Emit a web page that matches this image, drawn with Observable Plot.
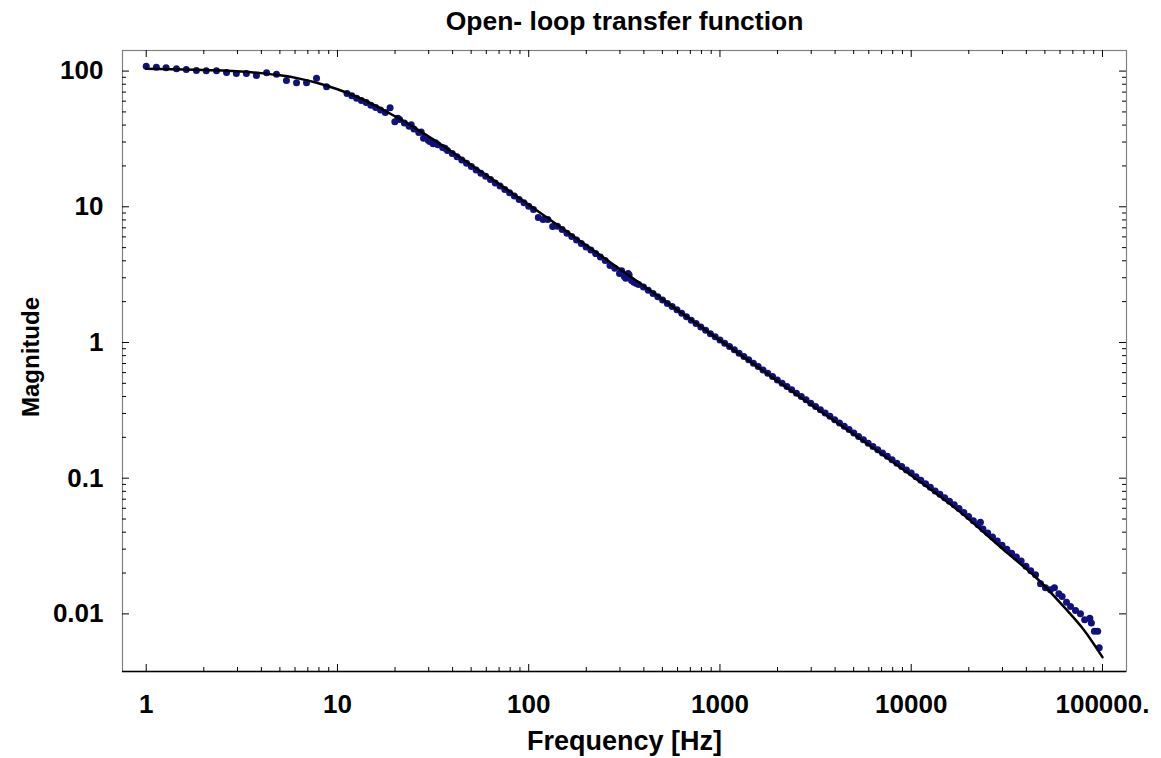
<!DOCTYPE html>
<html><head><meta charset="utf-8">
<script src="https://cdn.jsdelivr.net/npm/d3@7"></script>
<script src="https://cdn.jsdelivr.net/npm/@observablehq/plot@0.6"></script>
<style>body{margin:0;background:#fff} svg{display:block}</style>
</head><body><div id="chart"></div>
<script>
// ---- Measured data (Hz, magnitude) ----
const freqA = [1, 1.13, 1.27, 1.44, 1.62, 1.83, 2.06, 2.33, 2.63, 2.96, 3.34, 3.77, 4.26, 4.80, 5.41, 6.11, 6.89, 7.77, 8.77];
const magA  = [108.7, 106.9, 105.7, 103.9, 102.8, 100.9, 100.4, 100.4, 97.7, 95.9, 95.9, 92.8, 97.1, 94.9, 85.3, 82.0, 82.0, 88.7, 76.6];

const freqB = [11.22, 11.89, 12.59, 13.34, 14.13, 14.96, 15.85, 16.79, 17.78, 18.84, 19.95, 21.13, 22.39, 23.71, 25.12, 26.61, 28.18, 29.85, 31.62, 33.50, 35.48, 37.58, 39.81, 42.17, 44.67, 47.32, 50.12, 53.09, 56.23, 59.57, 63.10, 66.83, 70.79, 74.99, 79.43, 84.14, 89.13, 94.41,
               20.7, 24.3, 27.4, 30.4, 32.6, 36.5];
const magB  = [68.5, 65.8, 63.2, 60.6, 58.6, 56.1, 53.9, 51.6, 49.6, 53.6, 42.4, 43.9, 41.4, 39.2, 37.4, 35.3, 32.0, 30.9, 29.2, 28.6, 27.3, 26.0, 24.7, 23.4, 22.1, 20.9, 19.8, 18.7, 17.7, 16.8, 15.9, 15.0, 14.2, 13.4, 12.7, 12.0, 11.3, 10.7,
               44.9, 40.2, 35.6, 30.3, 29.6, 27.0];

const freqC = [100, 105.9, 112.2, 118.9, 125.9, 133.4, 141.3, 149.6, 158.5, 167.9, 177.8, 188.4, 199.5, 211.3, 223.9, 237.1, 251.2, 266.1, 281.8, 298.5, 316.2, 335.0, 354.8, 375.8, 398.1, 421.7, 446.7, 473.2, 501.2, 530.9, 562.3, 595.7, 631.0, 668.3, 707.9, 749.9, 794.3, 841.4, 891.3, 944.1,
               306, 331, 322, 345, 366];
const magC  = [10.1, 9.55, 8.35, 8.05, 8.05, 7.15, 7.20, 6.80, 6.38, 6.05, 5.70, 5.36, 5.05, 4.80, 4.52, 4.26, 4.02, 3.70, 3.52, 3.22, 3.06, 3.14, 2.78, 2.68, 2.56, 2.43, 2.30, 2.17, 2.06, 1.94, 1.84, 1.74, 1.64, 1.55, 1.46, 1.38, 1.30, 1.23, 1.16, 1.10,
               3.38, 3.22, 2.98, 2.86, 2.72];

const freqD = [1000, 1059, 1122, 1189, 1259, 1334, 1413, 1496, 1585, 1679, 1778, 1884, 1995, 2113, 2239, 2371, 2512, 2661, 2818, 2985, 3162, 3350, 3548, 3758, 3981, 4217, 4467, 4732, 5012, 5309, 5623, 5957, 6310, 6683, 7079, 7499, 7943, 8414, 8913, 9441];
const magD  = [1.045, 0.988, 0.935, 0.883, 0.834, 0.788, 0.745, 0.704, 0.665, 0.628, 0.594, 0.561, 0.530, 0.501, 0.474, 0.448, 0.423, 0.400, 0.378, 0.357, 0.338, 0.319, 0.302, 0.286, 0.270, 0.255, 0.241, 0.228, 0.215, 0.203, 0.192, 0.181, 0.171, 0.162, 0.153, 0.145, 0.137, 0.129, 0.122, 0.115];

const freqE = [10000, 10590, 11220, 11890, 12590, 13340, 14130, 14960, 15850, 16790, 17780, 18840, 19950, 21130, 22390, 23000, 23710, 25120, 26610, 28180, 29850, 31620, 33500, 35480, 37580, 39810, 42170, 44670];
const magE  = [0.109, 0.1025, 0.0965, 0.0910, 0.0857, 0.0806, 0.0760, 0.0716, 0.0675, 0.0636, 0.0598, 0.0558, 0.0521, 0.0486, 0.0454, 0.0474, 0.0423, 0.0395, 0.0368, 0.0344, 0.0320, 0.0299, 0.0280, 0.0262, 0.0245, 0.0224, 0.0208, 0.0194];

const freqF = [47430, 50350, 53460, 56100, 59160, 61520, 64860, 68080, 72280, 76740, 80720, 85900, 87500, 90780, 94410, 96160];
const magF  = [0.01667, 0.01556, 0.01504, 0.01556, 0.01406, 0.01343, 0.01219, 0.01134, 0.01059, 0.01002, 0.00904, 0.00929, 0.00855, 0.00746, 0.00746, 0.00562];

// ---- Fitted model curve ----
const fitFreq = [1, 1.585, 2.512, 3.981, 5.012, 6.310, 7.943, 10, 12.59, 15.85, 19.95, 25.12, 31.62, 39.81, 63.10, 100, 177.8, 316.2, 562.3, 1000, 1778, 3162, 5623, 10000, 17780, 31620, 44670, 63100, 79430, 100000];
const fitMag  = [104, 102.7, 100.9, 96.6, 93.0, 88.0, 81.4, 73.5, 64.7, 55.5, 46.5, 38.5, 31.4, 25.3, 16.3, 10.35, 5.84, 3.29, 1.85, 1.04, 0.585, 0.330, 0.188, 0.105, 0.0572, 0.0283, 0.0187, 0.0112, 0.0077, 0.0048];

// ---- Axes ----
const xDomain = [0.7516, 133560];
const yDomain = [0.003762, 141.8];
const xMajor = [1, 10, 100, 1000, 10000, 100000];
const xLabels = ["1", "10", "100", "1000", "10000", "100000."];
const xMinor = [2,3,4,5,6,7,8,9, 20,30,40,50,60,70,80,90, 200,300,400,500,600,700,800,900, 2000,3000,4000,5000,6000,7000,8000,9000, 20000,30000,40000,50000,60000,70000,80000,90000];
const yMajor = [0.01, 0.1, 1, 10, 100];
const yLabels = ["0.01", "0.1", "1", "10", "100"];
const yMinor = [0.02,0.03,0.04,0.05,0.06,0.07,0.08,0.09, 0.2,0.3,0.4,0.5,0.6,0.7,0.8,0.9, 2,3,4,5,6,7,8,9, 20,30,40,50,60,70,80,90];

const titleText = "Open- loop transfer function";
const xTitle = "Frequency [Hz]";
const yTitle = "Magnitude";

// ---- Build ----
const pairs = (fs, ms) => fs.map((f, i) => ({f, m: ms[i]}));
const points = [
  ...pairs(freqA, magA), ...pairs(freqB, magB), ...pairs(freqC, magC),
  ...pairs(freqD, magD), ...pairs(freqE, magE), ...pairs(freqF, magF)
];
const fit = pairs(fitFreq, fitMag);

const W = 1161, H = 758, mL = 122, mR = 35, mT = 50, mB = 87;
const innerW = W - mL - mR, innerH = H - mT - mB;
const font = "'Liberation Sans', Arial, Helvetica, sans-serif";
const lab = {fontWeight: "bold", fill: "black", lineAnchor: "middle"};

const chart = Plot.plot({
  width: W, height: H,
  marginLeft: mL, marginRight: mR, marginTop: mT, marginBottom: mB,
  style: {fontFamily: font, background: "white", overflow: "visible"},
  x: {type: "log", domain: xDomain, axis: null},
  y: {type: "log", domain: yDomain, axis: null},
  marks: [
    Plot.frame({stroke: "#808080", strokeWidth: 1.2}),
    Plot.ruleY([yDomain[0]], {stroke: "black", strokeWidth: 1.5}),
    // bottom ticks (inward)
    Plot.ruleX(xMajor, {insetTop: innerH - 7, stroke: "black"}),
    Plot.ruleX(xMinor, {insetTop: innerH - 4, stroke: "black"}),
    // top ticks
    Plot.ruleX(xMajor, {insetBottom: innerH - 7, stroke: "black"}),
    Plot.ruleX(xMinor, {insetBottom: innerH - 4, stroke: "black"}),
    // left ticks
    Plot.ruleY(yMajor, {insetRight: innerW - 7, stroke: "black"}),
    Plot.ruleY(yMinor, {insetRight: innerW - 4, stroke: "black"}),
    // right ticks
    Plot.ruleY(yMajor, {insetLeft: innerW - 7, stroke: "black"}),
    Plot.ruleY(yMinor, {insetLeft: innerW - 4, stroke: "black"}),
    // data
    Plot.dot(points, {x: "f", y: "m", r: 3.5, fill: "#10107f", stroke: "none"}),
    Plot.line(fit, {x: "f", y: "m", stroke: "black", strokeWidth: 2.5, curve: "monotone-x"}),
    // tick labels
    Plot.text(xMajor, {x: d => d, text: (d, i) => xLabels[i], frameAnchor: "bottom", dy: 33, fontSize: 26, ...lab}),
    Plot.text(yMajor, {y: d => d, text: (d, i) => yLabels[i], frameAnchor: "left", dx: -19, textAnchor: "end", fontSize: 26, ...lab}),
    // titles
    Plot.text([titleText], {text: d => d, frameAnchor: "top", dy: -29, textAnchor: "middle", fontSize: 26.5, ...lab}),
    Plot.text([xTitle], {text: d => d, frameAnchor: "bottom", dy: 70, textAnchor: "middle", fontSize: 27, ...lab}),
    Plot.text([yTitle], {text: d => d, frameAnchor: "left", dx: -91, dy: -4, rotate: -90, textAnchor: "middle", fontSize: 24, ...lab})
  ]
});
document.getElementById("chart").append(chart);
</script>
</body></html>
